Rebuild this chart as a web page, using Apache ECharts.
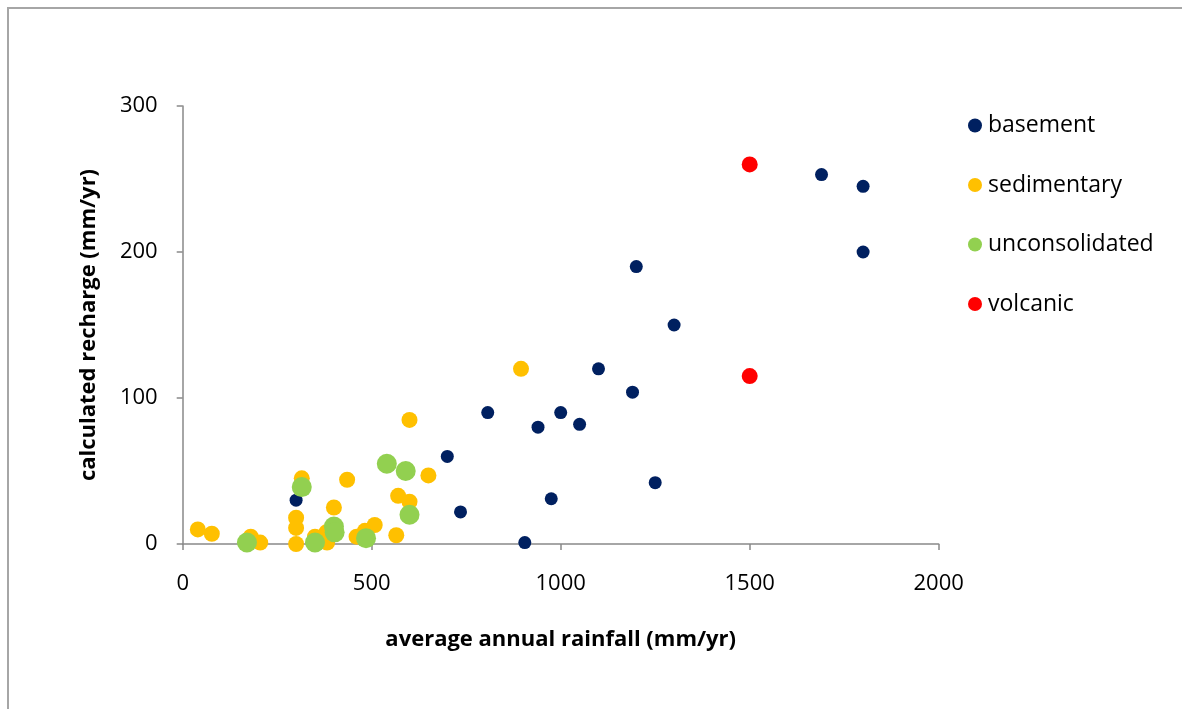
<!DOCTYPE html>
<html>
<head>
<meta charset="utf-8">
<script src="https://cdn.jsdelivr.net/npm/echarts@6/dist/echarts.min.js"></script>
<style>
html,body{margin:0;padding:0;width:1182px;height:709px;overflow:hidden;background:#fff;}
#frame{position:absolute;left:7px;top:7px;width:1300px;height:800px;border:2px solid #a6a6a6;}
#chart{position:absolute;left:0;top:0;width:1182px;height:709px;}
</style>
</head>
<body>
<div id="frame"></div>
<div id="chart"></div>
<script>
// [rainfall mm/yr, recharge mm/yr]
const basement = [[300,30],[700,60],[735,22],[905,1],[807,90],[940,80],[1000,90],[1050,82],[975,31],[1100,120],[1190,104],[1250,42],[1200,190],[1300,150],[1690,253],[1800,245],[1800,200]];
const sedimentary = [[40,10],[77,7],[180,5],[205,1],[315,45],[300,18],[300,11],[300,0],[350,5],[382,1],[380,8],[400,25],[435,44],[460,5],[482,9],[508,13],[565,6],[570,33],[600,29],[600,85],[650,47],[895,120]];
const unconsolidated = [[170,1],[315,39],[350,1],[400,12],[402,8],[485,4],[540,55],[590,50],[600,20]];
const volcanic = [[1500,260],[1500,115]];
const seriesNames = ['basement','sedimentary','unconsolidated','volcanic'];
const xTicks = {min:0, max:2000, interval:500};
const yTicks = {min:0, max:300, interval:100};

const font = '"Open Sans", sans-serif';
const chart = echarts.init(document.getElementById('chart'));
const axisColor = '#898989';
chart.setOption({
  animation:false,
  textStyle:{fontFamily:font},
  grid:{left:182.7, right:243.3, top:106, bottom:165, containLabel:false},
  legend:{
    orient:'vertical', left:963, top:109, itemGap:36.5, itemWidth:14, itemHeight:14,
    icon:'circle',
    textStyle:{fontFamily:font, fontSize:23, color:'#000', padding:[0,0,0,1]},
    data:seriesNames
  },
  xAxis:{
    type:'value', min:xTicks.min, max:xTicks.max, interval:xTicks.interval,
    name:'average annual rainfall (mm/yr)', nameLocation:'middle', nameGap:85,
    nameTextStyle:{fontFamily:font, fontSize:22, fontWeight:'bold', color:'#000'},
    splitLine:{show:false},
    axisLine:{show:true, lineStyle:{color:axisColor, width:1.5}},
    axisTick:{show:true, inside:false, length:6, lineStyle:{color:axisColor, width:1.5}},
    axisLabel:{fontFamily:font, fontSize:22, color:'#000', margin:29, formatter:(v)=>String(v)}
  },
  yAxis:{
    type:'value', min:yTicks.min, max:yTicks.max, interval:yTicks.interval,
    name:'calculated recharge (mm/yr)', nameLocation:'middle', nameGap:83,
    nameTextStyle:{fontFamily:font, fontSize:22, fontWeight:'bold', color:'#000'},
    splitLine:{show:false},
    axisLine:{show:true, onZero:false, lineStyle:{color:axisColor, width:1.5}},
    axisTick:{show:true, inside:false, length:6, lineStyle:{color:axisColor, width:1.5}},
    axisLabel:{fontFamily:font, fontSize:22, color:'#000', margin:25, formatter:(v)=>String(v)}
  },
  series:[
    {name:seriesNames[0], type:'scatter', data:basement, symbolSize:13, itemStyle:{color:'#002060', opacity:1}},
    {name:seriesNames[1], type:'scatter', data:sedimentary, symbolSize:16, itemStyle:{color:'#FFC000', opacity:1}},
    {name:seriesNames[2], type:'scatter', data:unconsolidated, symbolSize:20, itemStyle:{color:'#92D050', opacity:1}},
    {name:seriesNames[3], type:'scatter', data:volcanic, symbolSize:16, itemStyle:{color:'#FF0000', opacity:1}}
  ]
});
</script>
</body>
</html>
